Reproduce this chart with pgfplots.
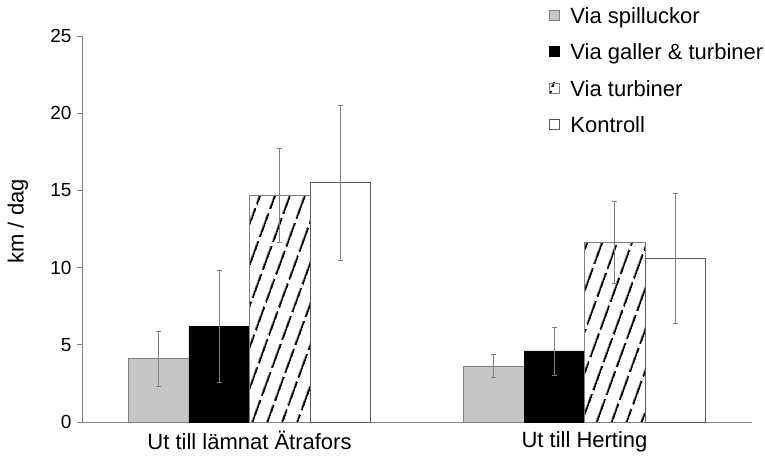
\documentclass[border=0pt]{standalone}
\usepackage{pgfplots}
\pgfplotsset{compat=1.18}
\usepackage{fontspec}
\setmainfont{Liberation Sans}
\usetikzlibrary{patterns.meta}
\definecolor{barGray}{HTML}{C6C6C6}
\definecolor{axGray}{HTML}{808080}
\tikzdeclarepattern{
  name=steepdash,
  type=uncolored,
  bounding box={(0bp,0bp) and (30bp,14.2bp)},
  tile size={(30bp,14.2bp)},
  tile transformation={rotate=70},
  code={
    \draw[line width=2.2bp] (0bp,7.1bp) -- (26bp,7.1bp);
  }
}
\begin{document}
\begin{tikzpicture}
\useasboundingbox (-82bp,-38bp) rectangle (683bp,422bp);
\begin{axis}[
  at={(0,0)}, anchor=south west,
  scale only axis,
  width=670bp, height=386bp,
  ybar=0pt, bar width=60.5bp,
  xmin=-0.5, xmax=1.5,
  ymin=0, ymax=25,
  xtick={0,1},
  xticklabels={Ut till lämnat Ätrafors, Ut till Herting},
  ytick={0,5,10,15,20,25},
  axis x line*=bottom, axis y line*=left,
  axis line style={-, axGray, line width=0.7bp},
  x tick style={draw=none},
  y tick style={axGray, line width=0.7bp},
  tick align=outside,
  major tick length=5bp,
  /pgf/number format/assume math mode=true,
  yticklabel style={font=\fontsize{19bp}{22bp}\selectfont, xshift=-2bp},
  xticklabel style={font=\fontsize{22bp}{26bp}\selectfont, yshift=-1bp},
  ylabel={km / dag},
  ylabel style={font=\fontsize{22bp}{26bp}\selectfont, at={(axis description cs:-0.0955,0.52)}, anchor=center},
  clip=false,
  legend cell align=left,
  legend style={draw=none, fill=none, at={(axis description cs:0.692,1.085)}, anchor=north west,
    font=\fontsize{22bp}{26bp}\selectfont, row sep=15bp,
    /tikz/every odd column/.append style={column sep=9bp}},
  legend image code/.code={\draw[#1] (0bp,-4bp) rectangle (10bp,6bp);},
  error bars/y dir=both, error bars/y explicit,
  error bars/error bar style={axGray, line width=0.7bp},
  error bars/error mark options={rotate=90, mark size=2.5bp, axGray, line width=0.7bp},
]
\addplot[fill=barGray, draw=axGray, line width=0.5bp] coordinates {(0,4.1) +- (0,1.8) (1,3.63) +- (0,0.75)};
\addlegendentry{Via spilluckor}
\addplot[fill=black, draw=black, line width=0.5bp] coordinates {(0,6.2) +- (0,3.6) (1,4.6) +- (0,1.55)};
\addlegendentry{Via galler \& turbiner}
\addplot[pattern=steepdash, pattern color=black, draw=axGray, line width=0.5bp] coordinates {(0,14.7) +- (0,3.05) (1,11.66) +- (0,2.65)};
\addlegendentry{Via turbiner}
\addplot[fill=white, draw=axGray!70!black, line width=0.6bp] coordinates {(0,15.5) +- (0,5.0) (1,10.6) +- (0,4.2)};
\addlegendentry{Kontroll}
\end{axis}
\end{tikzpicture}
\end{document}
